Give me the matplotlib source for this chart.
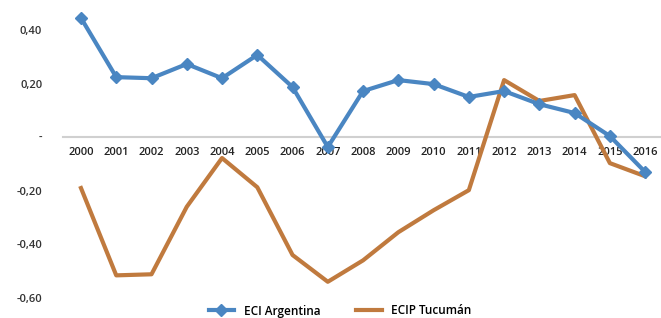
import matplotlib.pyplot as plt
from matplotlib.ticker import FixedLocator, FixedFormatter

years = [str(y) for y in range(2000, 2017)]
eci_argentina = [0.445, 0.224, 0.220, 0.273, 0.220, 0.307, 0.187, -0.037, 0.172,
                 0.213, 0.198, 0.150, 0.172, 0.123, 0.090, 0.004, -0.130]
ecip_tucuman = [-0.190, -0.516, -0.512, -0.260, -0.078, -0.187, -0.440, -0.540, -0.460,
                -0.355, -0.273, -0.198, 0.213, 0.135, 0.157, -0.097, -0.146]
y_ticks = [-0.6, -0.4, -0.2, 0.0, 0.2, 0.4]
y_labels = ["-0,60", "-0,40", "-0,20", "-", "0,20", "0,40"]

blue = "#4a86c2"
orange = "#c07a3e"

plt.rcParams["font.family"] = ["Open Sans", "DejaVu Sans"]

fig = plt.figure(figsize=(6.61, 3.18), dpi=100)
ax = fig.add_axes([63 / 661, 18 / 318, 598 / 661, 300 / 318])

x = list(range(len(years)))
ax.plot(x, eci_argentina, color=blue, lw=3, marker="D", ms=6, label="ECI Argentina", zorder=3)
ax.plot(x, ecip_tucuman, color=orange, lw=3, label="ECIP Tucumán", zorder=2)

ax.set_xlim(-0.51, 16.45)
ax.set_ylim(-0.608, 0.512)

# y axis: no line, labels only
for s in ["top", "right", "left"]:
    ax.spines[s].set_visible(False)
ax.spines["bottom"].set_position(("data", 0))
ax.spines["bottom"].set_color("#d0d0d0")
ax.spines["bottom"].set_linewidth(1.5)
ax.spines["bottom"].set_zorder(1)

ax.yaxis.set_major_locator(FixedLocator(y_ticks))
ax.yaxis.set_major_formatter(FixedFormatter(y_labels))
ax.tick_params(axis="y", length=0, pad=15, labelsize=8, labelcolor="#333333")
ax.set_xticks(x)
ax.set_xticklabels(years)
ax.tick_params(axis="x", length=0, pad=7, labelsize=8, labelcolor="#222222")
for lab in ax.get_xticklabels() + ax.get_yticklabels():
    lab.set_fontweight("semibold")

fig.legend(loc="center", bbox_to_anchor=(340 / 661, 1 - 311 / 318), ncol=2, frameon=False,
           handlelength=2.2, columnspacing=3, prop={"weight": "semibold", "size": 8.5})

fig.savefig("out.png", dpi=100)
